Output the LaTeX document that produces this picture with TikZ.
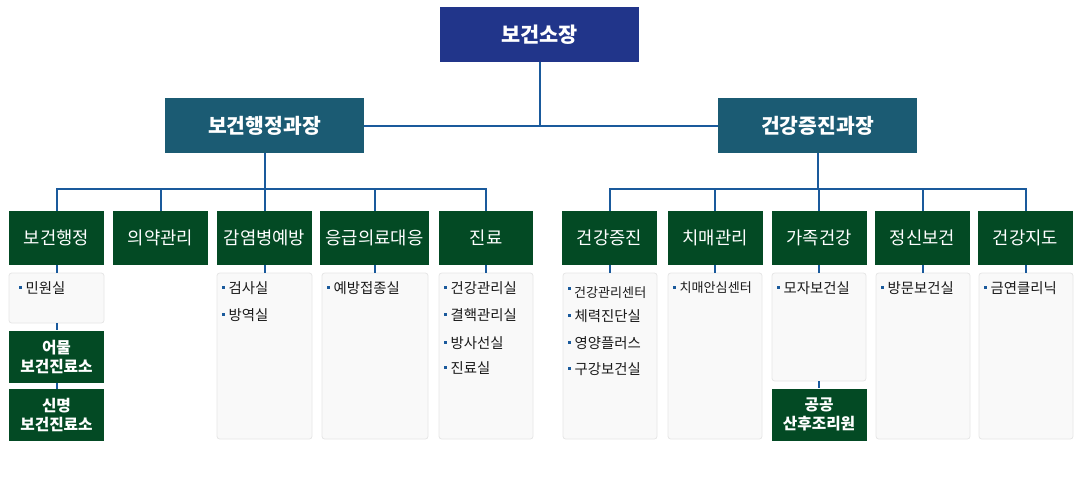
\documentclass[tikz,border=0pt]{standalone}
\usepackage{fontspec}
\setmainfont{Noto Sans CJK KR}
\usepackage{xcolor}
\usepackage{tikz}
\usetikzlibrary{positioning}
\definecolor{chiefblue}{HTML}{21358A}
\definecolor{deptteal}{HTML}{1B5B73}
\definecolor{teamgreen}{HTML}{034A24}
\definecolor{linkblue}{HTML}{1A5A9C}
\definecolor{panelgray}{HTML}{F9F9F9}
\definecolor{panelline}{HTML}{E6E6E6}
\definecolor{itemtext}{HTML}{1A1A1A}
\newcommand{\TeamHeight}{40.5pt}
\newcommand{\Bul}{{\color{linkblue}\rule[0.32em]{2.2pt}{2.2pt}}\hspace{2.6pt}}
\tikzset{
  chief/.style={fill=chiefblue, text=white, minimum width=149.25pt, minimum height=41.25pt,
    font=\bfseries\fontsize{15.6pt}{18pt}\selectfont},
  dept/.style={fill=deptteal, text=white, minimum width=149.25pt, minimum height=41.25pt,
    font=\bfseries\fontsize{15.3pt}{18pt}\selectfont},
  team/.style={fill=teamgreen, text=white, minimum height=\TeamHeight, inner sep=0pt,
    font=\fontsize{13.3pt}{15pt}\selectfont},
  office/.style={fill=teamgreen, text=white, minimum width=71.25pt, minimum height=39pt,
    inner sep=0pt, align=center, font=\bfseries\fontsize{11.8pt}{14.2pt}\selectfont},
  panel/.style={fill=panelgray, draw=panelline, line width=0.6pt, rounded corners=2pt},
  item/.style={anchor=west, inner sep=0pt, text=itemtext, font=\fontsize{10.8pt}{12pt}\selectfont},
  link/.style={draw=linkblue, line width=1.5pt},
}

\begin{document}
\begin{tikzpicture}[x=0.75pt, y=-0.75pt]
        \useasboundingbox (0,0) rectangle (1080,490);
        % head and departments
        \node[chief] (chief) at (539.5,34.5) {보건소장};
        \node[dept] (admin) at (264.5,125.5) {보건행정과장};
        \node[dept] (promo) at (817.5,125.5) {건강증진과장};
        \draw[link] (chief.south) |- (admin.east);
        \draw[link] (chief.south) |- (promo.west);
        % teams under the left department
        \foreach \n/\x/\w/\descr in {1/56.5/71.25pt/보건행정, 2/160.5/71.25pt/의약관리,
            3/264.5/71.25pt/감염병예방, 4/374.5/81.75pt/응급의료대응, 5/486/70.5pt/진료}
        \node[team, minimum width=\w] (admin\n) at (\x,238) {\descr};
        \coordinate (adminbus) at (264.5,189);
        \draw[link] (admin.south) -- (adminbus);
        \foreach \n in {1,...,5}
        \draw[link] (adminbus) -| (admin\n.north);
        % teams under the right department
        \foreach \n/\x/\descr in {1/609.5/건강증진, 2/715/치매관리, 3/819/가족건강,
            4/922.5/정신보건, 5/1025.5/건강지도}
        \node[team, minimum width=71.25pt] (promo\n) at (\x,238) {\descr};
        \coordinate (promobus) at (817.5,189);
        \draw[link] (promo.south) -- (promobus);
        \foreach \n in {1,...,5}
        \draw[link] (promobus) -| (promo\n.north);
        % panels on the left
        \node[panel, minimum width=71.25pt, minimum height=37.5pt] (adminlist1) at (56.5,298) {};
        \foreach \n/\x/\w in {3/264.5/71.25pt, 4/375/79.5pt, 5/486/70.5pt}
        \node[panel, minimum width=\w, minimum height=124.5pt] (adminlist\n) at (\x,356) {};
        \foreach \n in {1,3,4,5}
        \draw[link] (admin\n.south) -- (admin\n.south |- adminlist\n.north);
        % health posts
        \node[office, below=5.25pt of adminlist1] (eomul) {어물\\보건진료소};
        \node[office, below=4.5pt of eomul] (sinmyeong) {신명\\보건진료소};
        \draw[link] (adminlist1.south) -- (eomul.north);
        \draw[link] (eomul.south) -- (sinmyeong.north);
        % panels on the right
        \foreach \n/\x in {1/610, 2/715, 4/923, 5/1026}
        \node[panel, minimum width=70.5pt, minimum height=124.5pt] (promolist\n) at (\x,356) {};
        \node[panel, minimum width=70.5pt, minimum height=81pt] (promolist3) at (819,327) {};
        \foreach \n in {1,...,5}
        \draw[link] (promo\n.south) -- (promo\n.south |- promolist\n.north);
        \node[office, below=5.25pt of promolist3] (carecenter) {공공\\산후조리원};
        \draw[link] (promolist3.south) -- (carecenter.north);
        % items
        \node[item] (adminitem1) at (19,288) {\Bul 민원실};
        \foreach \y/\descr in {288/검사실, 315/방역실}
        \node[item] (adminitem3-\y) at (222,\y) {\Bul\descr};
        \node[item] (adminitem4) at (327,288) {\Bul 예방접종실};
        \foreach \y/\descr in {288/건강관리실, 315/결핵관리실, 343/방사선실, 368/진료실}
        \node[item] (adminitem5-\y) at (444,\y) {\Bul\descr};
        \node[item, font=\fontsize{9.8pt}{11pt}\selectfont] (promoitem1) at (568,293)
            {{\color{linkblue}\rule[0.62em]{2pt}{2pt}}\hspace{2.4pt}건강관리센터};
        \foreach \y/\descr in {316/체력진단실, 343/영양플러스, 369/구강보건실}
        \node[item] (promoitem1-\y) at (568,\y) {\Bul\descr};
        \node[item, font=\fontsize{9.8pt}{11pt}\selectfont] (promoitem2) at (673,288) {\Bul 치매안심센터};
        \node[item] (promoitem3) at (777,288) {\Bul 모자보건실};
        \node[item] (promoitem4) at (881,288) {\Bul 방문보건실};
        \node[item] (promoitem5) at (984,288) {\Bul 금연클리닉};
    \end{tikzpicture}
\end{document}
